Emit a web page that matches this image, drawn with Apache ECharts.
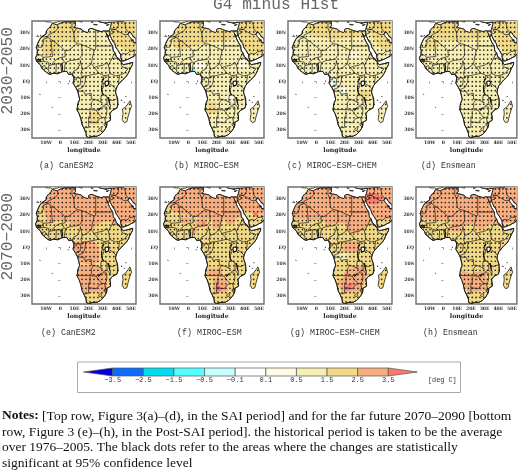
<!DOCTYPE html>
<html>
<head>
<meta charset="utf-8">
<title>G4 minus Hist</title>
<script src="https://cdn.jsdelivr.net/npm/echarts@6/dist/echarts.min.js"></script>
<style>html,body{margin:0;padding:0;background:#fff}#main{width:520px;height:472px}</style>
</head>
<body>
<div id="main"></div>
<script>
var panelNames = ['(a) CanESM2', '(b) MIROC−ESM', '(c) MIROC−ESM−CHEM', '(d) Ensmean', '(e) CanESM2', '(f) MIROC−ESM', '(g) MIROC−ESM−CHEM', '(h) Ensmean'];
var lonTicks = [-10, 0, 10, 20, 30, 40, 50];
var lonLabels = ['10W', '0', '10E', '20E', '30E', '40E', '50E'];
var latTicks = [30, 20, 10, 0, -10, -20, -30];
var latLabels = ['30N', '20N', '10N', 'EQ', '10S', '20S', '30S'];
var barLabels = ['−3.5', '−2.5', '−1.5', '−0.5', '−0.1', '0.1', '0.5', '1.5', '2.5', '3.5'];
var barColors = ['#0000e0', '#0a6cff', '#00dcf0', '#55ffff', '#c4ffff', '#ffffff', '#fffae5', '#f6eeb2', '#f2d985', '#f8ad7e', '#fb7a6d'];

// stippling grid, lon/lat of model cells
var dotLons = [-18.2, -15.4, -12.6, -9.8, -7, -4.2, -1.4, 1.4, 4.2, 7, 9.8, 12.6, 15.4, 18.2, 21, 23.8, 26.6, 29.4, 32.2, 35, 37.8, 40.6, 43.4, 46.2, 49, 51.8];
var dotLats = [36.3, 33.5, 30.7, 27.9, 25.1, 22.3, 19.5, 16.7, 13.9, 11.1, 8.3, 5.5, 2.7, -0.1, -2.9, -5.7, -8.5, -11.3, -14.1, -16.9, -19.7, -22.5, -25.3, -28.1, -30.9, -33.7];

// coastline, Africa joined with Arabia through Sinai
var coast = [[-5.9,35.8],[-5.3,35.9],[-3,35.3],[-2,35.1],[-1,35.7],[1,36.5],[3,36.9],[5,36.8],[7,37],[9.8,37.3],[11,37],[10.6,36.4],[10.6,35.5],[11,35],[10.2,34.3],[10.1,33.8],[11.2,33.2],[13,32.9],[15.2,32.3],[16,31.3],[18,30.6],[19.5,30.4],[20.1,31.2],[20,32.2],[21.5,32.9],[23,32.7],[25,31.9],[27,31.4],[29,30.9],[30.5,31.4],[32,31.3],[34.2,31.3],[34.9,32],[35.5,33.8],[36,35.5],[36.2,36.7],[34.5,36.7],[32,36.1],[30.5,36.5],[29,36.7],[27.5,37],[27,39],[56,39],[56,26.7],[53.5,26.7],[52,27.5],[50.8,28.8],[50,30.2],[48.8,30.3],[48,30],[47.7,29.3],[48.3,28.5],[49,27.5],[50.1,26.6],[50.2,25.7],[50.8,24.8],[51.2,26],[51.6,25],[51.5,24.3],[52.5,24.2],[56,24.1],[56,18],[53.1,16.7],[52.2,15.6],[50,14.8],[48.5,14],[45,12.8],[43.5,12.7],[43.2,13.3],[42.8,15],[42.7,16.5],[41,19],[39.2,21.3],[38.5,23.5],[37.2,25],[35.5,27.8],[34.9,29.5],[34.3,27.9],[33.2,28.3],[32.6,29.9],[33.8,27.2],[34.9,25],[35.6,23.9],[37,22],[37.3,20],[37.5,18.7],[38.6,18],[39.7,15.2],[41,14.5],[42.4,13],[43.3,12.2],[43.3,11.5],[44.5,10.4],[46,10.7],[48,11.1],[51.2,11.9],[51,10.4],[49.5,8],[48,5],[46,2.5],[44,1],[42,-1],[40.5,-2.5],[39.5,-4.5],[39,-6.5],[39.5,-8],[40.5,-10.5],[40.7,-14.5],[40,-16.5],[37,-17.8],[35,-19.8],[35.5,-22],[35.5,-24],[33,-25.3],[32.8,-27.5],[32,-29],[30.5,-31],[28.5,-32.8],[26,-33.9],[22.5,-34.1],[20,-34.8],[18.4,-34],[18.2,-32],[17,-29.5],[15.5,-27],[14.5,-23],[13.3,-20],[11.8,-17.5],[12.5,-13.5],[13.7,-11],[12.3,-6],[11,-3.8],[9,-1],[9.4,0.5],[9.7,3],[8.5,4.6],[6,4.3],[4.5,6.3],[1.5,6.1],[-2,4.8],[-4.5,5.2],[-7.5,4.4],[-9.5,5.5],[-11.5,6.9],[-13.2,8.5],[-13.8,10],[-15,11],[-16.7,12.4],[-17.5,14.7],[-16.4,16.5],[-16.2,19.5],[-17,21],[-15.9,23.7],[-14.5,26.2],[-13,27.8],[-10,29.5],[-9.7,31.5],[-8,33.3],[-6.8,34.1]];
var madagascar = [[49.3,-12],[50.4,-15.5],[49.5,-17],[48,-21.5],[47,-25],[45.2,-25.5],[43.7,-23.5],[44.3,-20],[44,-17],[46.3,-15.7],[48,-13.5]];
var islands = [
  [[-10,37],[-9,36.9],[-6.5,36.9],[-5.5,36.1],[-4,36.7],[-2,36.8],[-0.5,37.6],[-0.5,39],[-10,39]],
  [[12.5,37.7],[15.2,36.7],[15.6,38],[12.5,38.2]],
  [[23.5,35.5],[26.2,35.2],[26,35],[23.6,35.2]],
  [[22,36.5],[23,36.6],[23,38],[22,38]],
  [[32.4,35],[34.5,35.5],[33.9,34.9],[33,34.6]],
  [[-16.7,28],[-16.2,28.5],[-16.1,28],[-16.6,27.9]],
  [[-15.7,28],[-15.3,28.1],[-15.4,27.8]],
  [[-14.4,28.1],[-13.9,28.6],[-13.8,28.2]],
  [[8.5,3.7],[8.9,3.6],[8.7,3.2]],
  [[6.5,0.4],[6.8,0.3],[6.5,0]],
  [[5.5,-1.3],[5.8,-1.3],[5.6,-1.6]],
  [[-14.5,-7.8],[-14.2,-7.9],[-14.4,-8.1]],
  [[-5.8,-15.8],[-5.5,-15.9],[-5.7,-16.1]],
  [[43.2,-11.4],[43.6,-11.7],[43.3,-12]],
  [[45,-12.7],[45.3,-12.9],[45,-13]],
  [[46.2,-9.3],[46.6,-9.4],[46.3,-9.6]],
  [[55,-4.5],[55.6,-4.6],[55.4,-4.9]]
];
var lakes = [[[31.8,0],[33.5,0.4],[34.3,-0.5],[33.7,-2.4],[32,-2.6],[31.6,-1]]];
var thickLines = [
  [[29.2,-3.5],[29.3,-5],[29.6,-7],[30.8,-8.4]],
  [[34,-9.6],[34.4,-11.5],[34.9,-13.5]],
  [[29.5,0.6],[31,2]],
  [[-16.7,13.2],[-14,13.6],[-14,13.2],[-16.7,13.6]],
  [[1.2,6.2],[1.5,9],[0.9,11]],
  [[28.5,-16.5],[26.8,-18]]
];
var borders = [
  [[-2,35.1],[-1.7,33],[-3.6,31],[-8.7,28.7],[-8.7,27.3],[-12,26],[-12,23.5],[-13,23],[-13,21.3],[-17,21.3]],
  [[-8.7,27.7],[-13,27.7]],
  [[-8.7,27.3],[-4.8,25],[-6.5,25],[-5.5,15.5],[-12,15],[-12,14.7]],
  [[-16.4,16.4],[-14,16.5],[-12,14.7],[-12,12.5],[-16.7,12.4]],
  [[-4.8,25],[1.2,21],[3.3,19],[6,19.4],[12,23.5],[15,23],[24,19.5],[25,20],[25,31.7]],
  [[8.3,36.9],[8.2,33],[9.5,30.2],[10,25],[12,23.5]],
  [[11.5,33.1],[9.5,30.2]],
  [[25,22],[36.8,22]],
  [[24,19.5],[22.5,14],[22,11]],
  [[15,23],[15.5,16.5],[13.5,14]],
  [[3.3,19],[3.5,15.4],[1,15],[2.5,12.5],[3.6,11.7],[7,13],[13.5,13.7]],
  [[2.7,6.3],[3.6,11.7]],
  [[1.1,6.1],[0,11]],
  [[-3.1,5.1],[-2.8,10.9]],
  [[-5.5,10.4],[-2.8,11],[0.9,11],[2.5,12]],
  [[-5.5,10.4],[-5.4,11.5],[-2,14.2],[1,15]],
  [[-7.5,4.4],[-8.5,7.5],[-8,10],[-6,10.3],[-5.5,10.4]],
  [[-8,10],[-8.5,12],[-12,12.5]],
  [[-13.2,9],[-11,10],[-10.5,8.5],[-11.5,6.9]],
  [[-10.5,8.5],[-8.5,7.5]],
  [[-16.7,12.4],[-13.7,12.6],[-15,11]],
  [[8.5,4.6],[9.5,6.5],[12,7.5],[14,11],[14.2,13],[15,10],[15.5,7.5],[18.5,8.5],[22,11],[24,8.7],[27.4,5.1]],
  [[15.5,7.5],[14.5,5],[16,2.2],[16.6,3.5],[18.5,3.5],[22.5,4.2],[27.4,5.1],[31,3.7],[34,4]],
  [[24,8.7],[27,9.6],[30,10],[33,12],[34,10],[35,5.5]],
  [[34,10],[36.5,14.3],[38.5,18]],
  [[36.5,14.3],[40,14.5],[42.4,12.5],[43.3,11.5],[42.8,10.9],[44,9],[47.9,8],[45,5],[42,4],[39,3.5],[35,5],[34,4],[34,1],[34,-1],[37.5,-3],[39.2,-4.7]],
  [[41.9,3.9],[41,-1.7]],
  [[31,3.7],[30,0],[29.6,-1.4],[30.5,-1.1],[30.8,-2.4],[30,-4.4],[29.3,-4.4],[29,-2.7],[29.6,-1.4]],
  [[30.5,-1.1],[34,-1]],
  [[30.8,-8.2],[33,-9.5],[34.5,-11.5],[37,-11.7],[40.5,-10.5]],
  [[34.5,-11.5],[34.8,-14],[35.5,-14.5],[35.2,-17],[34.5,-15.5],[33,-14],[33,-9.5]],
  [[33,-14],[30.4,-15]],
  [[30.8,-8.2],[28.9,-8.5],[28.5,-12],[29.8,-13.4],[27,-12],[24,-11],[22,-11],[21.8,-7.3],[17.5,-8],[16.5,-6],[12.3,-6]],
  [[24,-11],[22,-13],[22,-16.3],[23.4,-17.6],[18.5,-17.4],[14,-17.4],[11.8,-17.3]],
  [[23.4,-17.6],[25.3,-17.8],[28,-16.5],[30.4,-15.6],[33,-16],[32.8,-19.5],[32.5,-21],[31.3,-22.4],[32,-25.5],[32.8,-26.8]],
  [[25.3,-17.8],[27.5,-20.5],[29.3,-22.2],[31.3,-22.4]],
  [[29.3,-22.2],[27,-23.7],[25.5,-25.5],[23,-25.3],[20,-24.8],[20,-22],[21,-22],[21,-18.3]],
  [[20,-24.8],[20,-28.4],[17,-28.7],[16.5,-28.6]],
  [[27,-29.5],[28.5,-28.6],[29.4,-29.5],[28,-30.6],[27,-29.5]],
  [[31,-25.8],[32,-26],[32,-27.2],[31,-27.2],[31,-25.8]],
  [[9.8,2.3],[16,2.2]],
  [[11,-3.8],[12,-2.4],[14,-2.3],[14.5,1.4],[13.3,2.2]],
  [[9.7,1],[11.3,1],[11.3,2.2]],
  [[12.2,-5],[16,-3.5],[17.5,-0.5],[18,3.5]],
  [[34.2,31.3],[34.9,29.5]],
  [[34.9,29.4],[37.5,30],[36,32],[39,32.2],[44.7,29.2],[46.5,29],[48,29.3]],
  [[35.8,32.7],[39,32.2],[41,34.5],[41.3,37]],
  [[36.2,36.7],[42,37.2],[44.8,37.2],[46,35],[46,33],[47.7,31],[48.5,30]],
  [[42.8,16.4],[44,17.4],[47,17],[49,18.5],[52,19],[53.1,16.6]],
  [[52,19],[55,20],[55.5,22],[51.6,24.2]]
];

// colour classes per panel: index into barColors, then the area it covers
var baseClass = [7, 7, 7, 7, 8, 8, 8, 8];
var zonesA = [
  [8, [[-7,39],[14,39],[14,30],[12,24],[-4,25],[-9,30]]],
  [8, [[-13,27],[-1,26],[0,17],[-12,16]]],
  [8, [[34,39],[56,39],[56,18],[46,19],[38,24],[35,29]]],
  [8, [[21,-19],[28,-19],[28,-27],[21,-27]]]
];
var zonesB = [
  [8, [[-12,28],[-8,39],[30,39],[32,26],[12,24],[-3,20],[-10,21]]],
  [8, [[34,39],[56,39],[56,17],[44,17],[37,25]]],
  [8, [[13,-12],[20,-13],[20,-20],[13,-20]]],
  [9, [[51,36],[54,39],[54,33]]],
  [6, [[3,12],[10,13],[13,9],[8,7],[3,8]]],
  [6, [[26,-9],[33,-8],[35,-11],[28,-11]]],
  [6, [[28,-1],[31,-1],[31,-4],[28,-4]]],
  [6, [[35,13],[41,13],[42,9],[36,9]]],
  [3, [[-5.5,6],[-3.5,6],[-3.5,4],[-5.5,4]]],
  [3, [[2,8],[4.5,8],[4.5,6],[2,6]]]
];
var zonesC = [
  [8, [[36,39],[56,39],[56,20],[46,20],[39,28]]],
  [8, [[-9,39],[30,39],[33,28],[12,26],[-5,28]]],
  [8, [[30,-5],[38,-5],[38,-10],[30,-10]]],
  [6, [[24,18],[30,18],[30,15],[24,15]]],
  [6, [[8,2],[14,3],[16,-2],[10,-2]]],
  [6, [[16,-4],[21,-4],[21,-7],[16,-7]]],
  [3, [[-4,6],[-3,6],[-3,5],[-4,5]]],
  [3, [[12,0.5],[14,0.5],[14,-1],[12,-1]]],
  [3, [[17,-5],[19,-5],[19,-6],[17,-6]]]
];
var zonesD = [
  [8, [[-9,39],[30,39],[34,28],[12,25],[-4,26],[-10,29]]],
  [8, [[36,39],[56,39],[56,18],[44,18],[38,26]]],
  [8, [[-13,26],[-4,26],[-4,20],[-13,20]]]
];
var zonesE = [
  [9, [[-14,39],[56,39],[56,17],[44,14.5],[38,15],[32,17],[26,14],[22,11],[18,9],[15,14],[8,14],[6,16],[-2,17],[-7,15],[-10,18],[-12,25],[-14,29]]],
  [9, [[9,4],[18,4],[22,5],[26,2],[28,-4],[27,-9],[22,-11],[12,-9],[9,-2]]],
  [9, [[12,-11],[22,-11],[28,-13],[33,-15],[33,-24],[31,-28],[22,-28],[16,-28],[10,-19]]]
];
var zonesF = [
  [9, [[-14,39],[56,39],[56,20],[46,21],[38,24],[37,19],[30,17],[20,18],[10,18],[0,20],[-10,22],[-14,26]]],
  [9, [[-5,15],[0,15],[3,18],[-5,19]]],
  [9, [[5,13],[12,13],[13,18],[5,18]]],
  [9, [[17,12],[23,12],[24,18],[17,18]]],
  [9, [[27,14],[33,15],[33,18],[27,18]]],
  [9, [[2,9],[6,9],[6,12],[2,12]]],
  [9, [[13,-13],[24,-13],[24,-18],[13,-18]]],
  [9, [[17,-19],[27,-19],[28,-28],[18,-28]]],
  [10, [[20,-23],[23,-24],[23,-27],[20,-27]]],
  [10, [[46,19],[49,19],[49,22],[46,22]]],
  [10, [[10,14],[12,14],[12,16],[10,16]]]
];
var zonesG = [
  [9, [[-17,39],[56,39],[56,17],[44,18],[38,18],[36,13],[30,9],[26,9],[22,10],[20,15],[12,15],[8,13],[5,17],[-5,17],[-17,18]]],
  [9, [[19,4],[30,4],[30,-3],[19,-3]]],
  [9, [[23,-13],[33,-11],[36,-16],[33,-24],[29,-28],[18,-28],[15,-20],[19,-19],[20,-15]]],
  [10, [[34,31],[40,34],[47,32],[44,27],[37,27]]],
  [10, [[21,-23],[27,-21],[24,-26],[21,-27]]],
  [7, [[14,-4],[22,-4],[22,-8],[14,-8]]]
];
var zonesH = [
  [9, [[-17,39],[56,39],[56,16],[44,15],[37,16],[30,12],[26,11],[22,15],[15,13],[8,14],[4,17],[-5,16.5],[-17,18]]],
  [9, [[5,10],[12,10],[13,15],[5,15]]],
  [9, [[12,-14],[20,-16],[30,-14],[32,-20],[30,-27],[18,-28],[13,-20]]]
];
var panelZones = [zonesA, zonesB, zonesC, zonesD, zonesE, zonesF, zonesG, zonesH];

var noteLines = [
  '{b|Notes:} [Top row, Figure 3(a)–(d), in the SAI period] and for the far future 2070–2090 [bottom',
  'row, Figure 3 (e)–(h), in the Post-SAI period]. the historical period is taken to be the average',
  'over 1976–2005. The black dots refer to the areas where the changes are statistically',
  'significant at 95% confidence level'
];

var colX = [32, 160, 288, 416];
var rowY = [21, 187];
var captionX = [39, 174, 287, 421, 41, 177, 290, 423];
var captionY = [162, 329];

function inPolygon(pt, poly) {
  var inside = false;
  for (var i = 0, j = poly.length - 1; i < poly.length; j = i++) {
    if ((poly[i][1] > pt[1]) != (poly[j][1] > pt[1]) &&
        pt[0] < (poly[j][0] - poly[i][0]) * (pt[1] - poly[i][1]) / (poly[j][1] - poly[i][1]) + poly[i][0]) {
      inside = !inside;
    }
  }
  return inside;
}

var landDots = [];
dotLats.forEach(function (lat) {
  dotLons.forEach(function (lon) {
    if ((inPolygon([lon, lat], coast) || inPolygon([lon, lat], madagascar)) && lat < 37) {
      landDots.push([lon, lat]);
    }
  });
});

function toPixels(api, ring) {
  return ring.map(function (p) { return api.coord(p); });
}

var grid = [], xAxis = [], yAxis = [], series = [], graphicItems = [];

panelNames.forEach(function (name, i) {
  var row = i < 4 ? 0 : 1;
  var col = i % 4;
  grid.push({left: colX[col], top: rowY[row], width: col == 3 ? 103.5 : 104, height: 117,
    show: true, borderColor: '#6f6f6f', borderWidth: 1.4, backgroundColor: '#fff'});
  xAxis.push({
    type: 'value', gridIndex: i, min: -20, max: 53.5, name: 'longitude', nameLocation: 'middle', nameGap: 9.5,
    nameTextStyle: {fontFamily: 'DejaVu Serif', fontWeight: 'bold', fontSize: 6.2, color: '#222'},
    splitLine: {show: false}, axisLine: {show: false},
    axisTick: {length: 2, lineStyle: {color: '#555', width: 0.6}, customValues: lonTicks},
    axisLabel: {customValues: lonTicks, margin: 2.5, fontFamily: 'DejaVu Serif', fontWeight: 'bold', fontSize: 4.6, color: '#333',
      formatter: function (v) { return lonLabels[lonTicks.indexOf(v)]; }}
  });
  yAxis.push({
    type: 'value', gridIndex: i, min: -35, max: 37.5,
    splitLine: {show: false}, axisLine: {show: false},
    axisTick: {length: 2, lineStyle: {color: '#555', width: 0.6}, customValues: latTicks},
    axisLabel: {customValues: latTicks, margin: 2, fontFamily: 'DejaVu Serif', fontWeight: 'bold', fontSize: 4.6, color: '#333',
      formatter: function (v) { return latLabels[latTicks.indexOf(v)]; }}
  });

  var base = barColors[baseClass[i]];
  // land first, then the warmer classes cut to the coast
  series.push({
    type: 'custom', xAxisIndex: i, yAxisIndex: i, clip: true, silent: true, animation: false, z: 2,
    data: [0, 1].concat(islands.map(function (d, k) { return k + 2; })),
    renderItem: function (params, api) {
      var k = api.value(0);
      var ring = k == 0 ? coast : (k == 1 ? madagascar : islands[k - 2]);
      return {type: 'polygon', shape: {points: toPixels(api, ring)},
        style: {fill: base, stroke: '#1a1a1a', lineWidth: 0.8}};
    }
  });
  series.push({
    type: 'custom', xAxisIndex: i, yAxisIndex: i, clip: true, silent: true, animation: false, z: 3,
    data: panelZones[i].map(function (z, k) { return [k]; }),
    renderItem: function (params, api) {
      var z = panelZones[i][api.value(0)];
      return {type: 'polygon', shape: {points: toPixels(api, z[1])},
        style: {fill: barColors[z[0]]},
        clipPath: {type: 'polygon', shape: {points: toPixels(api, coast)}}};
    }
  });
  series.push({
    type: 'scatter', xAxisIndex: i, yAxisIndex: i, silent: true, animation: false, z: 4,
    symbolSize: 1.7, itemStyle: {color: '#222', opacity: 1}, data: landDots
  });
  // borders, coast again on top of the zones, lakes
  series.push({
    type: 'custom', xAxisIndex: i, yAxisIndex: i, clip: true, silent: true, animation: false, z: 5,
    data: borders.map(function (d, k) { return [k]; }),
    renderItem: function (params, api) {
      return {type: 'polyline', shape: {points: toPixels(api, borders[api.value(0)])},
        style: {fill: null, stroke: '#1a1a1a', lineWidth: 0.7}};
    }
  });
  series.push({
    type: 'custom', xAxisIndex: i, yAxisIndex: i, clip: true, silent: true, animation: false, z: 5,
    data: thickLines.map(function (d, k) { return [k]; }),
    renderItem: function (params, api) {
      return {type: 'polyline', shape: {points: toPixels(api, thickLines[api.value(0)])},
        style: {fill: null, stroke: '#111', lineWidth: 1.3}};
    }
  });
  series.push({
    type: 'custom', xAxisIndex: i, yAxisIndex: i, clip: true, silent: true, animation: false, z: 5,
    data: [[0], [1]],
    renderItem: function (params, api) {
      if (api.value(0) == 0) {
        return {type: 'polygon', shape: {points: toPixels(api, coast)},
          style: {fill: null, stroke: '#1a1a1a', lineWidth: 0.9}};
      }
      return {type: 'polygon', shape: {points: toPixels(api, lakes[0])},
        style: {fill: '#fff', stroke: '#111', lineWidth: 1.1}};
    }
  });

  graphicItems.push({type: 'text', left: captionX[i], top: captionY[row],
    style: {text: name, font: '8.3px "Liberation Mono"', fill: '#333'}});
});

// colour bar on its own axis, class edges at whole numbers
grid.push({left: 112.7, top: 368, width: 275.6, height: 8});
xAxis.push({
  type: 'value', gridIndex: 8, min: 0, max: 9, interval: 1,
  splitLine: {show: false}, axisLine: {show: false}, axisTick: {show: false},
  axisLabel: {margin: 1, fontFamily: 'Liberation Mono', fontSize: 7, color: '#333',
    formatter: function (v) { return barLabels[v]; }}
});
yAxis.push({type: 'value', gridIndex: 8, min: 0, max: 1, show: false});
series.push({
  type: 'custom', xAxisIndex: 8, yAxisIndex: 8, clip: false, silent: true, animation: false,
  data: barColors.map(function (c, k) { return [k]; }),
  renderItem: function (params, api) {
    var k = api.value(0);
    var style = {fill: barColors[k], stroke: '#555', lineWidth: 0.7};
    if (k == 0) {
      return {type: 'polygon', shape: {points: [api.coord([-0.95, 0.5]), api.coord([0, 1]), api.coord([0, 0])]}, style: style};
    }
    if (k == barColors.length - 1) {
      return {type: 'polygon', shape: {points: [api.coord([9, 1]), api.coord([9.95, 0.5]), api.coord([9, 0])]}, style: style};
    }
    return {type: 'polygon', shape: {points: [api.coord([k - 1, 1]), api.coord([k, 1]), api.coord([k, 0]), api.coord([k - 1, 0])]}, style: style};
  }
});

graphicItems.push({type: 'rect', left: 75, top: 359.5, shape: {width: 383, height: 30.5},
  style: {fill: 'none', stroke: '#aaa', lineWidth: 1}});
graphicItems.push({type: 'text', left: 428, top: 377,
  style: {text: '[deg C]', font: '6.8px "Liberation Mono"', fill: '#333'}});
graphicItems.push({type: 'text', left: 213, top: -3,
  style: {text: 'G4 minus Hist', font: '16.2px "Liberation Mono"', fill: '#666'}});
graphicItems.push({type: 'text', left: 0, top: 27, rotation: Math.PI / 2,
  style: {text: '2030−2050', font: '16.2px "Liberation Mono"', fill: '#666'}});
graphicItems.push({type: 'text', left: 0, top: 193, rotation: Math.PI / 2,
  style: {text: '2070−2090', font: '16.2px "Liberation Mono"', fill: '#666'}});
var noteY = [409, 425, 440, 456];
noteLines.forEach(function (line, k) {
  graphicItems.push({type: 'text', left: 2, top: noteY[k],
    style: {text: line, font: '13.5px "Liberation Serif"', fill: '#111',
      rich: {b: {font: 'bold 13.5px "Liberation Serif"', fill: '#111'}}}});
});

var myChart = echarts.init(document.getElementById('main'), null, {renderer: 'canvas'});
myChart.setOption({
  animation: false,
  backgroundColor: '#fff',
  grid: grid, xAxis: xAxis, yAxis: yAxis, series: series,
  graphic: graphicItems
});
</script>
</body>
</html>
